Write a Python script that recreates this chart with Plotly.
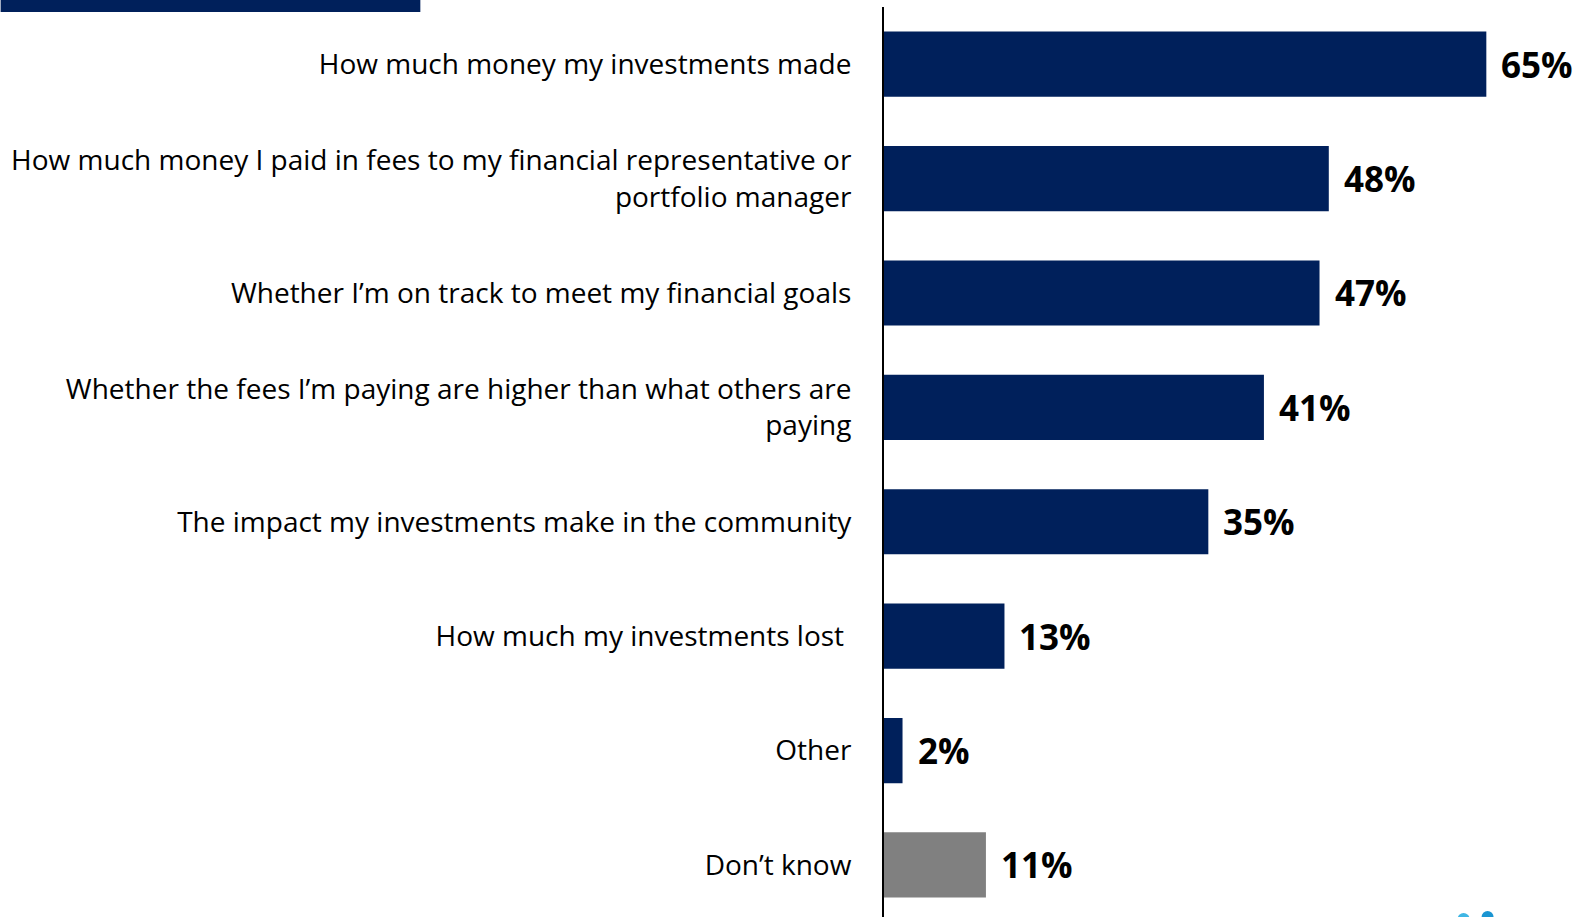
import plotly.graph_objects as go

categories = [
    "How much money my investments made",
    "How much money I paid in fees to my financial representative or<br>portfolio manager",
    "Whether I\u2019m on track to meet my financial goals",
    "Whether the fees I\u2019m paying are higher than what others are<br>paying",
    "The impact my investments make in the community",
    "How much my investments lost ",
    "Other",
    "Don\u2019t know",
]
values = [65, 48, 47, 41, 35, 13, 2, 11]
labels = ["65%", "48%", "47%", "41%", "35%", "13%", "2%", "11%"]
colors = ["#00205B"] * 7 + ["#808080"]

W, H = 1585, 917
left, right, top, bottom = 884, 5.5, 7, 0
plot_w = W - left - right
plot_h = H - top - bottom

fig = go.Figure()
fig.add_trace(go.Bar(
    x=values, y=list(range(len(categories))), orientation="h",
    marker=dict(color=colors, line=dict(width=0)),
    width=0.57, hoverinfo="skip",
))
for i, (v, t) in enumerate(zip(values, labels)):
    fig.add_annotation(x=v, y=i, text=t, showarrow=False, xanchor="left",
                       xshift=13, font=dict(family="Open Sans", size=35, color="#000000", weight="bold"))

def px_x(p):
    return (p - left) / plot_w

def px_y(p):
    return (H - bottom - p) / plot_h

fig.update_layout(
    width=W, height=H,
    margin=dict(l=left, r=right, t=top, b=bottom),
    plot_bgcolor="white", paper_bgcolor="white",
    showlegend=False,
    font=dict(family="Open Sans", size=28, color="#000000"),
    xaxis=dict(range=[0, 75], visible=False, showgrid=False, zeroline=False),
    yaxis=dict(
        range=[7.455, -0.5], tickmode="array",
        tickvals=list(range(len(categories))), ticktext=categories,
        showgrid=False, zeroline=False, showline=True, linecolor="#000000", linewidth=2,
        ticks="", ticklabelstandoff=25, tickfont=dict(family="Open Sans", size=28, color="#000000"),
    ),
    shapes=[
        dict(type="rect", xref="paper", yref="paper",
             x0=px_x(0), x1=px_x(420), y0=px_y(12), y1=px_y(0),
             fillcolor="#00205B", line=dict(width=0), layer="above"),
        dict(type="circle", xref="paper", yref="paper",
             x0=px_x(1458), x1=px_x(1470), y0=px_y(925), y1=px_y(913),
             fillcolor="#3FB6E4", line=dict(width=0), layer="above"),
        dict(type="circle", xref="paper", yref="paper",
             x0=px_x(1482), x1=px_x(1494), y0=px_y(923), y1=px_y(911),
             fillcolor="#1A95D2", line=dict(width=0), layer="above"),
    ],
)

fig.write_html("out.html", config={"displayModeBar": False},
               post_script="document.body.style.margin='0';")
